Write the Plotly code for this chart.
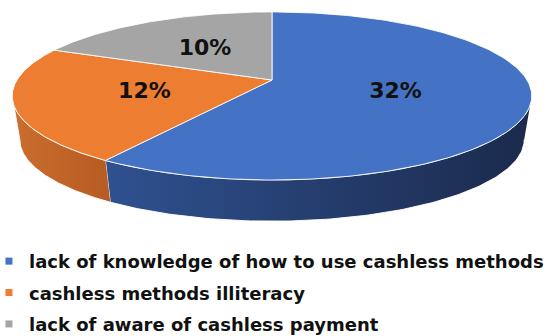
import numpy as np
import plotly.graph_objects as go

# Survey shares of reasons for not using cashless payment
categories = [
    "lack of knowledge of how to use cashless methods",
    "cashless methods illiteracy",
    "lack of aware of cashless payment",
]
values = [32, 12, 10]
labels = ["32%", "12%", "10%"]

top_colors = ["#4472C4", "#ED7D31", "#A5A5A5"]
side_colors = [
    ["#2F5190", "#1B2A4C"],
    ["#CB6D2E", "#B65B23"],
    ["#8A8A8A", "#6E6E6E"],
]

W, H = 552, 336

# Perspective view of a tilted disk (pixel space of the figure)
CX, CY = 272.0, 80.0      # projected disk centre
SX, SY = 255.0, 81.0      # horizontal / depth scale
A = 0.19                  # perspective foreshortening
VX, VY = 272.0, 1600.0    # vanishing point of the vertical walls
K = 0.971                 # bottom face scale toward vanishing point


def project(theta_deg, rho=1.0):
    t = np.radians(theta_deg)
    X = rho * np.sin(t)
    Z = rho * np.cos(t)
    d = 1.0 + A * Z
    return CX + SX * X / d, CY - SY * Z / d


def lower(x, y):
    return VX + K * (np.asarray(x) - VX), VY + K * (np.asarray(y) - VY)


total = float(sum(values))
bounds = np.concatenate([[0.0], np.cumsum(values) / total * 360.0])

# silhouette angles of the cylinder wall
sil = np.degrees(np.arccos(-A))
front_lo, front_hi = sil, 360.0 - sil

fig = go.Figure()

# visible outer walls
for i in range(len(values)):
    a0, a1 = max(bounds[i], front_lo), min(bounds[i + 1], front_hi)
    if a1 <= a0:
        continue
    th = np.linspace(a0, a1, 120)
    tx, ty = project(th)
    bx, by = lower(tx, ty)
    px = np.concatenate([tx, bx[::-1]])
    py = np.concatenate([ty, by[::-1]])
    fig.add_trace(go.Scatter(
        x=px, y=py, mode="lines", fill="toself",
        line=dict(color="rgba(255,255,255,0.9)", width=1),
        fillgradient=dict(type="horizontal",
                          colorscale=[[0, side_colors[i][0]], [1, side_colors[i][1]]]),
        hoverinfo="skip", showlegend=False,
    ))

# top faces
for i in range(len(values)):
    th = np.linspace(bounds[i], bounds[i + 1], 200)
    ax, ay = project(th)
    px = np.concatenate([[CX], ax, [CX]])
    py = np.concatenate([[CY], ay, [CY]])
    fig.add_trace(go.Scatter(
        x=px, y=py, mode="lines", fill="toself", fillcolor=top_colors[i],
        line=dict(color="rgba(255,255,255,0.85)", width=1),
        hoverinfo="skip", showlegend=False,
    ))

# percentage labels at slice mid-angles
mids = (bounds[:-1] + bounds[1:]) / 2.0
lx, ly = project(mids, 0.5)
fig.add_trace(go.Scatter(
    x=lx - 2, y=ly + 1, mode="text", text=labels,
    textfont=dict(family="DejaVu Sans", size=22, color="#111111", weight="bold"),
    hoverinfo="skip", showlegend=False,
))

# legend entries
for i, name in enumerate(categories):
    fig.add_trace(go.Scatter(
        x=[None], y=[None], mode="markers", name=name,
        marker=dict(symbol="square", size=7, color=top_colors[i]),
        legendgroup=f"g{i}",
    ))

fig.update_layout(
    width=W, height=H,
    margin=dict(l=0, r=0, t=0, b=0, autoexpand=False),
    paper_bgcolor="white", plot_bgcolor="white",
    xaxis=dict(range=[0, W], visible=False, fixedrange=True),
    yaxis=dict(range=[H, 0], visible=False, fixedrange=True),
    showlegend=True,
    legend=dict(
        x=-0.02, y=0.277, xanchor="left", yanchor="top",
        bgcolor="rgba(0,0,0,0)", traceorder="grouped", tracegroupgap=5,
        itemwidth=30,
        font=dict(family="DejaVu Sans", size=18, color="#111111", weight="bold"),
    ),
)

fig.write_html("out.html")
